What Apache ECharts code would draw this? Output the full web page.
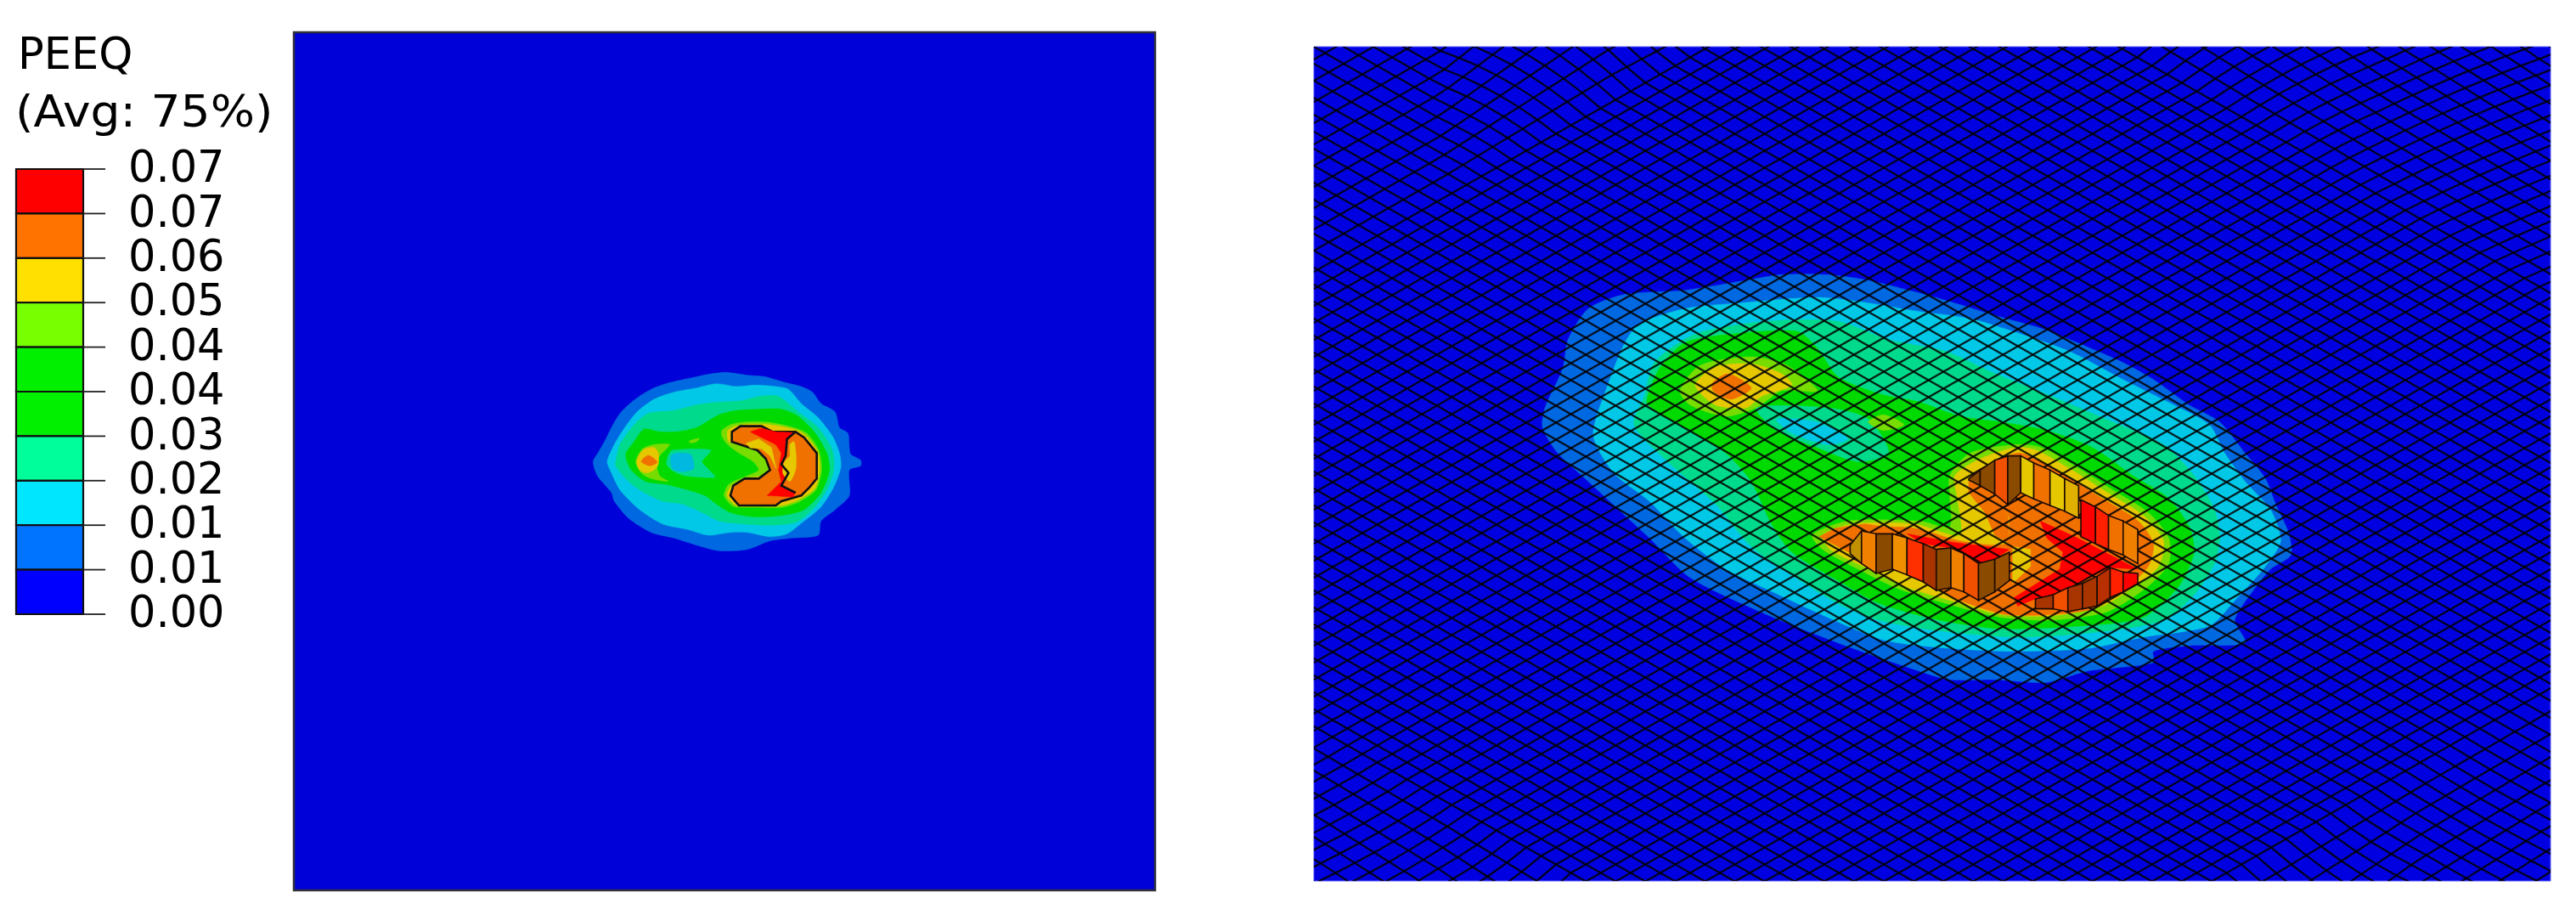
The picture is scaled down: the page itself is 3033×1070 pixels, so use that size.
<!DOCTYPE html>
<html><head><meta charset="utf-8">
<style>html,body{margin:0;padding:0;background:#fff}#c{width:3033px;height:1070px;filter:blur(.6px)}</style>
<script src="https://cdn.jsdelivr.net/npm/echarts@6/dist/echarts.min.js"></script>
</head><body><div id="c"></div>
<script>
// ---- legend ----
const legendTitle = ['PEEQ', '(Avg: 75%)'];
const tickLabels = ['0.07','0.07','0.06','0.05','0.04','0.04','0.03','0.02','0.01','0.01','0.00'];
const legendBands = ['#ff0000','#ff7300','#ffe000','#78ff00','#00f000','#00f000','#00ff9a','#00e6ff','#0073ff','#0000ff'];
// level colours as they look on the model
const C = {blue:'#0000dc', blue2:'#0068e0', cyan:'#00c8e6', teal:'#00da8c', green:'#00da00', lime:'#78dc00',
           yellow:'#e6c800', orange:'#f07000', red:'#ff0000', brown:'#8a4a00', brownR:'#a83400', gold:'#e0b000', rust:'#f05000'};

// ---- left panel: PEEQ contour outlines (top view) ----
const L_blue2 = [[55,370],[75,335],[100,290],[125,240],[150,200],[185,165],[225,135],[270,110],[330,90],[400,75],[460,62],[525,55],[600,65],[660,70],[730,90],[790,105],[830,125],[860,165],[910,195],[925,250],[955,270],[960,320],[965,345],[1000,365],[1000,385],[960,400],[960,490],[910,540],[860,580],[850,630],[760,640],[680,650],[600,680],[500,685],[420,665],[340,640],[260,620],[180,570],[130,510],[120,480],[70,420]];
const L_cyan = [[105,370],[130,310],[160,260],[210,195],[270,150],[340,125],[420,110],[490,95],[560,105],[630,100],[700,105],[745,115],[790,165],[850,215],[900,280],[925,340],[930,390],[905,460],[860,530],[800,580],[740,625],[680,635],[600,620],[540,620],[460,630],[390,610],[300,590],[220,540],[150,470],[120,410]];
const L_teal = [[135,370],[150,310],[200,240],[250,200],[340,190],[420,170],[500,160],[580,155],[640,140],[710,140],[780,195],[850,250],[900,330],[905,400],[880,470],[830,540],[770,585],[680,595],[580,590],[500,580],[440,550],[370,520],[300,510],[220,470],[170,430],[135,385]];
const L_green = [[170,345],[200,300],[235,255],[290,265],[350,265],[420,250],[500,205],[560,190],[640,185],[720,185],[780,210],[840,270],[880,340],[890,400],[860,480],[800,540],[720,560],[620,565],[540,550],[490,520],[450,490],[390,470],[310,450],[240,440],[190,400]];
const L_holeTeal = [[320,350],[335,330],[470,330],[440,370],[460,395],[485,425],[380,420],[340,405],[315,380]];
const L_holeCyan = [[330,350],[350,340],[400,345],[410,395],[370,405],[335,395]];
const L_streak = [[395,297],[430,288],[420,300],[398,304]];
const L_spotLime = [[205,370],[230,325],[270,310],[325,310],[290,350],[280,380],[290,420],[320,440],[260,430],[225,410]];
const L_spotYellow = [[210,370],[230,330],[270,320],[285,340],[285,380],[270,400],[245,410],[220,400]];
const L_spotOrange = [[225,370],[250,348],[282,372],[255,385]];
const L_haloLime = [[510,260],[545,238],[600,230],[680,232],[770,252],[812,272],[852,330],[862,400],[842,470],[782,512],[720,532],[620,532],[550,528],[518,490],[535,450],[600,420],[640,400],[620,370],[570,340],[530,310],[510,280]];
const L_haloYellow = [[530,262],[550,248],[600,238],[680,240],[770,258],[805,278],[848,335],[855,400],[838,465],[780,505],[720,525],[620,526],[560,524],[528,490],[545,455],[600,428],[655,420],[690,400],[670,355],[635,325],[590,310],[535,300]];
const L_body = [[545,265],[575,245],[650,245],[690,265],[770,265],[800,285],[845,340],[845,430],[820,460],[790,490],[720,510],[700,525],[570,525],[540,490],[550,455],[590,430],[640,430],[680,400],[665,360],[635,330],[590,315],[545,300]];
const L_red = [[610,265],[650,252],[700,265],[770,268],[735,300],[735,350],[720,380],[740,410],[720,455],[770,480],[760,495],[670,490],[720,440],[710,400],[720,340],[700,310],[650,285]];
const L_innerYellow = [[750,310],[765,300],[772,350],[770,400],[750,440],[725,410],[732,370],[750,350]];
const L_tongueYellow = [[595,305],[640,290],[685,320],[702,395],[680,350],[650,325],[610,322]];
const L_innerEdge = [[770,265],[740,290],[735,350],[720,380],[745,410],[720,455],[770,480]];

// ---- right panel: same contours on the deformed mesh ----
const R_blue2 = [[60,610],[65,540],[100,400],[110,300],[150,190],[220,140],[340,125],[460,90],[530,70],[620,70],[700,90],[790,130],[860,165],[960,220],[1040,260],[1110,310],[1200,380],[1260,440],[1330,530],[1390,590],[1440,700],[1480,790],[1500,880],[1525,980],[1530,1060],[1490,1110],[1450,1200],[1420,1290],[1440,1370],[1330,1380],[1260,1400],[1260,1440],[1130,1470],[1050,1510],[950,1500],[860,1500],[800,1470],[640,1370],[500,1270],[350,1140],[270,1000],[210,900],[150,800],[90,700]];
const R_cyan = [[160,640],[180,500],[240,260],[340,190],[450,170],[600,150],[700,170],[800,200],[900,225],[1000,280],[1100,345],[1200,440],[1300,530],[1370,600],[1400,700],[1440,800],[1490,900],[1510,1010],[1480,1100],[1420,1220],[1370,1310],[1240,1350],[1130,1390],[980,1400],[830,1385],[730,1360],[620,1280],[500,1180],[420,1110],[340,1000],[270,870],[200,770]];
const R_teal = [[240,600],[260,500],[280,380],[360,280],[500,235],[640,235],[740,300],[850,340],[950,420],[1060,500],[1180,590],[1280,670],[1340,780],[1380,900],[1390,1000],[1380,1090],[1340,1200],[1280,1290],[1160,1330],[1000,1350],[850,1330],[720,1290],[640,1230],[550,1130],[470,1030],[400,880],[300,720]];
const R_green = [[265,520],[290,400],[340,310],[430,280],[560,270],[600,330],[640,430],[720,490],[800,520],[880,570],[960,590],[1050,620],[1140,680],[1220,780],[1290,860],[1330,960],[1340,1050],[1310,1170],[1240,1280],[1120,1310],[960,1320],[840,1290],[720,1230],[640,1150],[550,1050],[510,950],[470,800],[420,700],[350,620],[290,560]];
const R_holeTeal = [[480,540],[620,540],[700,580],[740,700],[680,730],[600,680],[520,620]];
const R_holeCyan = [[520,580],[600,590],[660,650],[620,670],[550,630]];
const R_spotLime = [[330,480],[370,390],[470,360],[540,390],[600,480],[530,480],[480,540],[420,570],[350,530]];
const R_spotYellow = [[360,460],[400,395],[470,385],[530,420],[550,460],[490,500],[460,540],[400,530]];
const R_spotOrange = [[395,450],[425,420],[470,470],[430,510],[395,480]];
const R_spot2 = [[700,590],[730,565],[770,600],[730,620]];
const R_haloLime = [[590,990],[660,940],[800,940],[860,960],[860,850],[860,780],[900,700],[990,670],[1040,680],[1110,750],[1180,830],[1250,910],[1290,1000],[1290,1090],[1250,1170],[1170,1260],[1060,1290],[960,1280],[870,1240],[760,1180],[680,1110],[610,1040]];
const R_haloYellow = [[610,990],[670,950],[790,950],[880,990],[875,860],[870,780],[920,720],[990,680],[1030,690],[1100,760],[1170,840],[1240,920],[1280,1010],[1270,1100],[1230,1160],[1160,1240],[1060,1275],[960,1270],[880,1230],[770,1170],[690,1100],[625,1040]];
const R_ring = [[620,1000],[680,965],[790,965],[880,1010],[975,1020],[975,920],[900,790],[960,720],[1000,700],[1080,770],[1150,850],[1230,940],[1260,1020],[1250,1100],[1210,1170],[1140,1250],[1060,1270],[970,1270],[880,1220],[790,1140],[700,1080],[640,1030]];

// floors of the pit
const F_left = [[110,395],[160,365],[250,350],[340,365],[420,385],[520,410],[620,430],[695,420],[695,455],[650,475],[600,490],[555,455],[515,435],[470,440],[430,420],[380,400],[335,385],[285,385],[240,375],[205,425],[150,420]];
const F_leftRed = [[380,385],[520,415],[695,440],[650,475],[600,490],[555,455],[515,435],[430,420]];
const F_centre = [[695,320],[735,250],[905,330],[915,395],[1090,490],[1090,510],[1005,505],[770,620],[700,650],[630,610],[680,560],[695,550]];
const F_red = [[790,340],[905,400],[1090,510],[1005,505],[830,600],[775,615],[720,640],[710,610],[850,510],[860,450],[810,400]];
const F_tongue = [[570,195],[640,245],[690,320],[695,420],[650,390],[620,310],[570,240]];
const F_patch = [[705,430],[760,440],[760,500],[705,560]];

// pit walls: element edge positions, top and bottom of each edge, colour of each face
const W1_x=[570,605,650,690,730], W1_top=[190,160,125,110,110], W1_bot=[195,215,245,282,240], W1_c=[C.brown,C.brown,C.rust,C.brown];
const W2_x=[730,770,820,865,908], W2_top=[110,135,160,190,215], W2_bot=[240,262,285,305,330], W2_c=[C.yellow,C.orange,C.yellow,C.gold];
const W3_x=[915,960,1000,1045,1090], W3_top=[265,290,320,340,370], W3_bot=[395,420,440,460,490], W3_c=[C.red,'#ff2000',C.orange,'#f08000'];
const W4_x=[205,240,285,335,380,430,470,515,555,600,650,695], W4_top=[425,375,385,385,400,420,440,435,455,490,475,450], W4_bot=[455,490,525,510,530,555,585,575,590,620,590,550], W4_c=['#c09000','#f08000',C.brown,'#f09000','#ff3000',C.brownR,C.brown,'#f08000',C.rust,C.brown,'#985000'];
const W5_x=[775,830,875,920,965,1005,1045,1090], W5_top=[615,600,575,560,535,505,520,525], W5_bot=[650,650,660,650,640,610,590,560], W5_c=[C.brownR,C.rust,C.brownR,C.brownR,'#b83000','#ff2000',C.red];

// ---- mesh: element seam positions read along the two diagonal directions ----
const meshA = [-410,-385,-360,-335,-310,-285,-260,-235,-210,-185,-160,-135,-110,-85,-60,-35,-10,15,40,65,90,115,140,165,190,215,240,265,
 285,305,325,345,365,385,405,425,445,465,485,505,525,545,565,585,605,625,645,665,685,705,725,745,765,785,805,825,845,865,885,905,925,945,965,985,1005,1025,1045,1065,1085,1105,1125,1145,1165,1185,1205,1225,1245,1265,1285,1305,1325,1345,1365,1385,1405,1425,1445,1465,1485,1505,1525,1545,1565,1585,
 1612,1639,1666,1693,1720,1747,1774,1801,1828,1855,1882,1909,1936,1963,1990,2017,2044,2071,2098,2125,2152,2179,2206,2233,2260,2287];
const meshB = [-1240,-1215,-1190,-1165,-1140,-1115,-1090,-1065,-1040,-1015,-990,-965,-940,-915,-890,-865,-840,-815,-790,-765,-740,-715,-690,-665,-640,-615,-590,-565,-540,
 -520,-500,-480,-460,-440,-420,-400,-380,-360,-340,-320,-300,-280,-260,-240,-220,-200,-180,-160,-140,-120,-100,-80,-60,-40,-20,0,20,40,60,80,100,120,140,160,180,200,220,240,260,280,300,320,340,360,380,400,420,440,460,480,500,520,540,560,580,600,620,640,660,680,700,720,740,760,780,800,
 826,852,878,904,930,956,982,1008,1034,1060,1086,1112,1138,1164,1190,1216,1242,1268,1294,1320,1346,1372,1398];
const meshSlope = 0.57;
const fanTR = [[900,0.28],[1100,0.06],[1250,-0.05],[1456,-0.11]];
const fanBL = [[0,0],[150,0.08],[300,0.3],[420,0.1]];
const fanTL = [[0,0],[150,0],[350,0.28],[480,0.05]];
const fanBR = [[1050,0.05],[1120,0.28],[1300,0.05],[1456,0]];

function interp(tb,x){ if(x<=tb[0][0])return tb[0][1]; for(let i=1;i<tb.length;i++){ if(x<=tb[i][0]){const a=tb[i-1],b=tb[i];return a[1]+(b[1]-a[1])*(x-a[0])/(b[0]-a[0]);}} return tb[tb.length-1][1]; }
function meshNode(a,b){
  const x=(a-b)/(2*meshSlope); let y=(a+b)/2;
  if(b<-540) y-=interp(fanTR,x)*(-540-b);
  if(b>800) y+=interp(fanBL,x)*(b-800);
  if(a<265) y-=interp(fanTL,x)*(265-a);
  if(a>1585) y+=interp(fanBR,x)*(a-1585);
  return [x,y];
}

function poly(pts,fill,extra){return Object.assign({pts,fill},extra||{});}
function wall(xs,top,bot,cols){return cols.map((c,i)=>poly([[xs[i],top[i]],[xs[i+1],top[i+1]],[xs[i+1],bot[i+1]],[xs[i],bot[i]]],c,{stroke:'#1a0a00',lw:1.6,smooth:0}));}

function polySeries(idx,list,z,smooth){
  return {type:'custom',xAxisIndex:idx,yAxisIndex:idx,z,clip:true,silent:true,animation:false,
    data:list.map((p,i)=>[i,i]),
    renderItem(params,api){
      const p=list[params.dataIndex];
      const pts=p.pts.map(q=>api.coord(q));
      if(p.open) return {type:'polyline',shape:{points:pts},style:{fill:null,stroke:p.stroke,lineWidth:p.lw}};
      return {type:'polygon',shape:{points:pts,smooth:p.smooth!==undefined?p.smooth:smooth},
        style:{fill:p.fill,stroke:p.stroke||p.fill,lineWidth:p.stroke?p.lw:0.5}};
    }};
}

const leftPolys=[poly(L_blue2,C.blue2),poly(L_cyan,C.cyan),poly(L_teal,C.teal),poly(L_green,C.green),
  poly(L_holeTeal,C.teal),poly(L_holeCyan,'#00b8e0'),poly(L_streak,C.lime),
  poly(L_spotLime,C.lime),poly(L_spotYellow,C.yellow),poly(L_spotOrange,C.orange),
  poly(L_haloLime,C.lime),poly(L_haloYellow,C.yellow),
  poly(L_body,C.orange,{stroke:'#111',lw:2.6,smooth:0}),poly(L_red,C.red,{smooth:0}),poly(L_innerYellow,C.yellow),poly(L_tongueYellow,C.yellow,{smooth:0}),
  {pts:L_innerEdge,open:true,stroke:'#111',lw:2.6}];
const rightPolys=[poly(R_blue2,C.blue2),poly(R_cyan,C.cyan),poly(R_teal,C.teal),poly(R_green,C.green),
  poly(R_holeTeal,C.teal),poly(R_holeCyan,C.cyan),poly(R_spotLime,C.lime),poly(R_spotYellow,C.yellow),poly(R_spotOrange,C.orange),poly(R_spot2,C.lime),
  poly(R_haloLime,C.lime),poly(R_haloYellow,C.yellow),poly(R_ring,C.orange)];
const floorPolys=[poly(F_left,C.orange),poly(F_leftRed,C.red),poly(F_centre,C.orange),poly(F_patch,C.yellow),poly(F_red,C.red),poly(F_tongue,C.orange)];
const wallPolys=[].concat(wall(W1_x,W1_top,W1_bot,W1_c),wall(W2_x,W2_top,W2_bot,W2_c),wall(W3_x,W3_top,W3_bot,W3_c),wall(W4_x,W4_top,W4_bot,W4_c),wall(W5_x,W5_top,W5_bot,W5_c));

const meshLines=[...meshA.map(a=>meshB.map(b=>meshNode(a,b))),...meshB.map(b=>meshA.map(a=>meshNode(a,b)))];

const hide={show:false};
const ax=(g,min,max,inv)=>({type:'value',gridIndex:g,min,max,inverse:!!inv,show:false,splitLine:hide});
const chart=echarts.init(document.getElementById('c'),null,{renderer:'canvas'});
const rightBox={left:1547,top:55,width:1456,height:982};
const labelFont='51px "DejaVu Sans"';
chart.setOption({
  animation:false,
  backgroundColor:'#fff',
  grid:[
    {left:346,top:38,width:1014,height:1010,show:true,backgroundColor:'#0000d8',borderColor:'#303038',borderWidth:2.5},
    Object.assign({show:true,backgroundColor:'#0000e0',borderColor:'#5a5aff',borderWidth:1},rightBox),
    Object.assign({},rightBox),
    Object.assign({},rightBox),
    {left:19,top:199,width:79,height:524}
  ],
  xAxis:[ax(0,-1002,2040),ax(1,-389,2040),ax(2,-1445,2360),ax(3,0,1456),ax(4,0,1)],
  yAxis:[ax(0,-1146,1884,true),ax(1,-735,2211,true),ax(2,-1335,1611,true),ax(3,0,982,true),ax(4,0,10,true)],
  graphic:[
    {type:'text',x:21,y:68,style:{text:legendTitle[0],font:labelFont,fill:'#000',textVerticalAlign:'middle'}},
    {type:'text',x:18,y:136,scaleX:1.08,style:{text:legendTitle[1],font:labelFont,fill:'#000',textVerticalAlign:'middle'}}
  ],
  series:[
    polySeries(0,leftPolys,2,0.25),
    polySeries(1,rightPolys,2,0.25),
    polySeries(2,floorPolys,3,0),
    {type:'custom',xAxisIndex:3,yAxisIndex:3,z:4,clip:true,silent:true,animation:false,
      data:meshLines.map((l,i)=>[i,i]),
      renderItem(params,api){
        return {type:'polyline',shape:{points:meshLines[params.dataIndex].map(q=>api.coord(q))},
          style:{fill:null,stroke:'rgba(0,0,0,.85)',lineWidth:2.3}};
      }},
    polySeries(2,wallPolys,5,0),
    {type:'custom',xAxisIndex:4,yAxisIndex:4,z:6,clip:false,silent:true,animation:false,
      data:tickLabels.map((c,i)=>[i,i]),
      renderItem(params,api){
        const i=params.dataIndex, a=api.coord([0,i]), b=api.coord([1,i+1]), t=api.coord([1.33,i]);
        const kids=[
          {type:'line',shape:{x1:a[0]+79,y1:a[1],x2:t[0],y2:a[1]},style:{stroke:'#222',lineWidth:1.8}},
          {type:'text',x:151,y:a[1]+2,style:{text:tickLabels[i],font:labelFont,fill:'#000',textVerticalAlign:'middle'}}
        ];
        if(i<legendBands.length) kids.unshift({type:'rect',shape:{x:a[0],y:a[1],width:b[0]-a[0],height:b[1]-a[1]},style:{fill:legendBands[i],stroke:'#111',lineWidth:2.2}});
        return {type:'group',children:kids};
      }}
  ]
});
</script></body></html>
